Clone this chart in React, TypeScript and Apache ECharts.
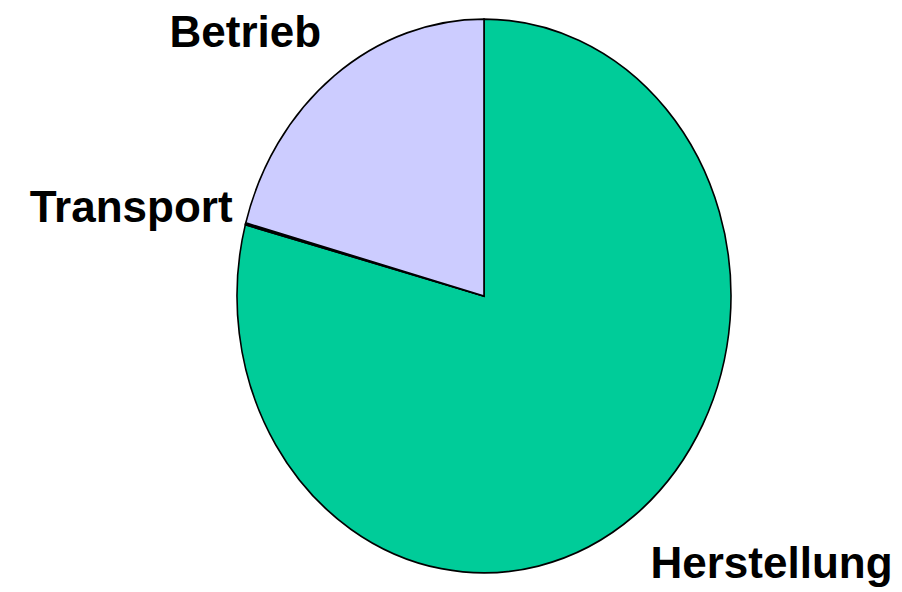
import React, { useEffect, useRef } from "react";
import * as echarts from "echarts";

const categories = ["Herstellung", "Transport", "Betrieb"];
const values = [79.15, 0.1, 20.75];
const colors = ["#00CC99", "#CCCCFF", "#CCCCFF"];

const CENTER = [484, 296];
const RADII = [247, 277];

export default function App() {
  const ref = useRef<HTMLDivElement>(null);
  useEffect(() => {
    const chart = echarts.init(ref.current!, null, { renderer: "svg" });
    const total = values.reduce((a, b) => a + b, 0);
    const [cx, cy] = CENTER;
    const [rx, ry] = RADII;
    chart.setOption({
      animation: false,
      backgroundColor: "#ffffff",
      series: [
        {
          type: "custom",
          coordinateSystem: "none",
          data: values.map((v, i) => ({ value: v, name: categories[i] })),
          renderItem: (params: any, api: any) => {
            const i = params.dataIndex;
            let start = 0;
            for (let k = 0; k < i; k++) start += values[k];
            const a0 = -Math.PI / 2 + (2 * Math.PI * start) / total;
            const a1 = a0 + (2 * Math.PI * values[i]) / total;
            const m = (a0 + a1) / 2;
            const ux = Math.cos(m);
            const uy = Math.sin(m);
            const px = cx + rx * ux;
            const py = cy + ry * uy;
            let align = "center";
            let dx = 0;
            if (ux > 0.3) { align = "left"; dx = 16; }
            else if (ux < -0.3) { align = "right"; dx = -13; }
            let vAlign = "middle";
            let dy = -17;
            if (uy > 0.5) { vAlign = "top"; dy = 25; }
            else if (uy < -0.5) { vAlign = "bottom"; dy = -22; }
            return {
              type: "group",
              children: [
                {
                  type: "sector",
                  x: cx,
                  y: cy,
                  scaleY: ry / rx,
                  shape: { cx: 0, cy: 0, r: rx, r0: 0, startAngle: a0, endAngle: a1, clockwise: true },
                  style: { fill: colors[i], stroke: "#000000", lineWidth: 1.6 },
                },
                {
                  type: "text",
                  x: px + dx,
                  y: py + dy,
                  style: {
                    text: categories[i],
                    fill: "#000000",
                    fontFamily: "'Liberation Sans', Arial, sans-serif",
                    fontWeight: "bold",
                    fontSize: 44,
                    align,
                    verticalAlign: vAlign,
                  },
                },
              ],
            };
          },
        },
      ],
    });
    return () => chart.dispose();
  }, []);
  return (
    <div
      ref={ref}
      style={{ position: "fixed", left: 0, top: 0, width: 902, height: 592 }}
    />
  );
}
